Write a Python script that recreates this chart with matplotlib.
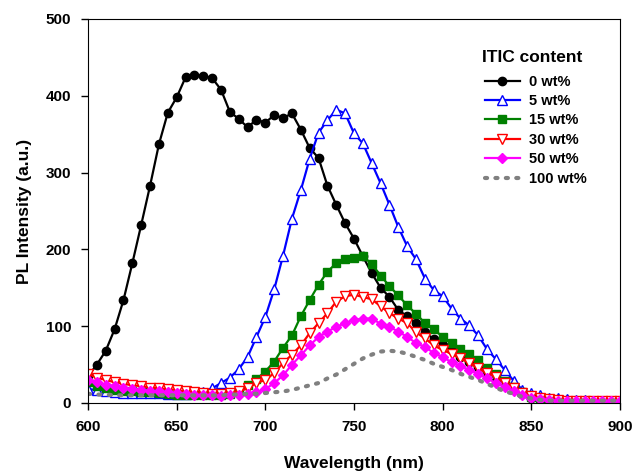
#! /usr/bin/env python3

import numpy as np
import matplotlib
matplotlib.use('Agg')
import matplotlib.pyplot as plt

# wavelength grid, 5 nm steps
wavelength = np.arange(600, 901, 5)

pl_0 = [35, 50, 68, 96, 134, 182, 232, 283, 337, 378,
        398, 424, 427, 426, 423, 408, 379, 370, 359, 369,
        365, 375, 371, 377, 356, 332, 319, 283, 258, 234,
        214, 191, 169, 150, 138, 121, 113, 104, 92, 83,
        75, 69, 60, 53, 47, 40, 33, 25, 18, 12,
        7, 6, 5, 4, 4, 3, 3, 3, 3, 3, 3]
pl_5 = [18, 17, 16, 14, 13, 13, 13, 13, 13, 12,
        12, 12, 13, 14, 19, 26, 33, 44, 60, 86,
        112, 148, 192, 240, 277, 318, 352, 368, 382, 377,
        351, 338, 312, 286, 258, 229, 204, 187, 162, 147,
        139, 123, 110, 101, 88, 70, 57, 43, 29, 17,
        13, 10, 7, 6, 5, 4, 4, 3, 3, 3, 3]
pl_15 = [27, 22, 19, 17, 16, 15, 14, 14, 13, 12,
         11, 10, 10, 10, 10, 10, 12, 16, 23, 31,
         41, 54, 72, 88, 113, 134, 154, 171, 182, 188,
         189, 191, 181, 166, 152, 140, 127, 116, 104, 96,
         86, 78, 70, 64, 56, 45, 38, 29, 21, 14,
         8, 5, 4, 3, 2, 2, 1, 1, 1, 1, 1]
pl_30 = [38, 33, 30, 27, 25, 23, 22, 20, 19, 18,
         17, 15, 14, 13, 12, 12, 13, 15, 19, 26,
         30, 39, 52, 63, 75, 91, 104, 117, 132, 139,
         141, 138, 135, 126, 117, 110, 104, 92, 84, 75,
         69, 64, 58, 52, 45, 39, 34, 26, 19, 13,
         9, 6, 5, 4, 3, 3, 3, 3, 3, 3, 3]
pl_50 = [30, 27, 24, 22, 20, 18, 17, 16, 15, 14,
         13, 12, 11, 10, 10, 9, 10, 11, 12, 14,
         18, 26, 36, 50, 62, 75, 86, 93, 99, 104,
         108, 110, 110, 103, 99, 93, 86, 78, 73, 65,
         60, 53, 48, 43, 38, 32, 26, 21, 16, 10,
         7, 5, 4, 3, 3, 3, 3, 3, 3, 3, 3]
pl_100 = [12, 11, 11, 10, 10, 10, 10, 10, 10, 10,
          10, 10, 10, 10, 10, 10, 11, 11, 12, 12,
          13, 14, 15, 17, 20, 23, 26, 32, 37, 44,
          51, 58, 63, 67, 68, 67, 64, 60, 56, 51,
          47, 43, 38, 34, 30, 25, 20, 15, 12, 8,
          6, 4, 3, 3, 3, 3, 3, 3, 3, 3, 3]

labels = ['0 wt%', '5 wt%', '15 wt%', '30 wt%', '50 wt%', '100 wt%']

plt.rcParams['font.family'] = ['Liberation Sans', 'DejaVu Sans']
plt.rcParams['font.weight'] = 'bold'

fig = plt.figure(figsize=(6.35, 4.75), dpi=100)
ax = fig.add_axes([0.1386, 0.1516, 0.8378, 0.8084])

ax.plot(wavelength, pl_0, color='black', lw=1.6, marker='o', ms=6,
        label=labels[0])
ax.plot(wavelength, pl_5, color='blue', lw=1.6, marker='^', ms=6.5,
        mfc='white', mec='blue', label=labels[1])
ax.plot(wavelength, pl_15, color='green', lw=1.6, marker='s', ms=6,
        label=labels[2])
ax.plot(wavelength, pl_30, color='red', lw=1.6, marker='v', ms=6.5,
        mfc='white', mec='red', label=labels[3])
ax.plot(wavelength, pl_50, color='magenta', lw=1.6, marker='D', ms=5,
        label=labels[4])
ax.plot(wavelength, pl_100, color='gray', lw=3, ls=(0, (0.5, 2.0)),
        dash_capstyle='round', label=labels[5])

ax.set_xlim(600, 900)
ax.set_ylim(0, 500)
ax.set_xticks(np.arange(600, 901, 50))
ax.set_yticks(np.arange(0, 501, 100))
ax.tick_params(direction='out', length=5, width=1, labelsize=11, pad=7,
               top=False, right=False)
for lab in ax.get_xticklabels() + ax.get_yticklabels():
    lab.set_fontweight('bold')
ax.set_xlabel('Wavelength (nm)', fontsize=12.5, fontweight='bold', labelpad=16)
ax.set_ylabel('PL Intensity (a.u.)', fontsize=12.5, fontweight='bold', labelpad=10)

# legend title drawn on its own so the gap to the entries can be set
ax.text(0.835, 0.901, 'ITIC content', transform=ax.transAxes,
        ha='center', va='center', fontsize=12.5, fontweight='bold')
leg = ax.legend(loc='upper left', bbox_to_anchor=(0.746, 0.855),
                frameon=False, fontsize=10.5, numpoints=1,
                borderpad=0, borderaxespad=0,
                handlelength=2.4, handletextpad=0.6, labelspacing=0.37)
for t in leg.get_texts():
    t.set_fontweight('bold')

fig.savefig('out.png', dpi=100)
